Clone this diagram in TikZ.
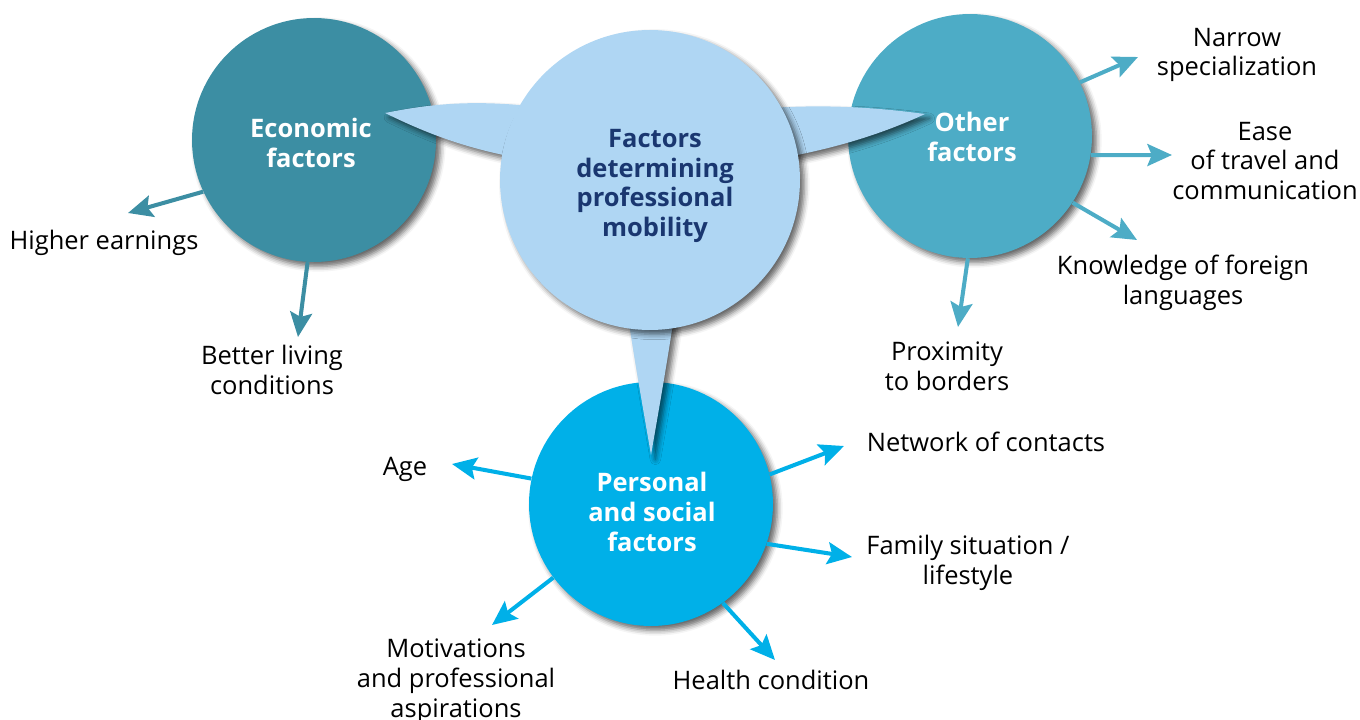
\documentclass[tikz,border=0pt]{standalone}
\usepackage{fontspec}
\setmainfont{Open Sans}
\usetikzlibrary{arrows.meta,positioning,shadows.blur}

\definecolor{econcol}{HTML}{3C8EA3}
\definecolor{centcol}{HTML}{AFD6F3}
\definecolor{othercol}{HTML}{4DACC6}
\definecolor{perscol}{HTML}{00B0E8}
\definecolor{navy}{HTML}{1A3770}

\tikzset{
  softshadow/.style={blur shadow={shadow xshift=2.5pt,shadow yshift=-2.5pt,
    shadow blur radius=3pt,shadow opacity=60}},
  factor/.style={circle,draw=none,inner sep=0pt,softshadow},
  factortext/.style={align=center,inner sep=0pt,text=white,
    font=\bfseries\fontsize{14.5}{17}\selectfont},
  item/.style={align=center,inner sep=0pt,font=\fontsize{14.5}{17}\selectfont},
  ptr/.style={line width=2.3pt,-{Stealth[length=14pt,width=12.5pt,inset=2.5pt]}},
  bubble/.style={fill=centcol,softshadow}
}

\begin{document}
\begin{tikzpicture}[x=0.02cm,y=-0.02cm]
\useasboundingbox (0,0) rectangle (1360,720);
% outer groups of factors
\node[factor,fill=econcol,minimum size=4.88cm] (econ) at (314,140) {};
\node[factor,fill=othercol,minimum size=4.88cm] (other) at (970,136) {};
\node[factor,fill=perscol,minimum size=4.88cm] (pers) at (651,504) {};
% pointers from the central bubble
\path[bubble] (385,113) .. controls (430,104) and (470,100) .. (530,106)
  -- (530,160) .. controls (470,150) and (430,135) .. (385,113) -- cycle;
\path[bubble] (925,114) .. controls (880,108) and (830,104) .. (770,108)
  -- (770,160) .. controls (830,150) and (880,135) .. (925,114) -- cycle;
\path[bubble] (627,310) .. controls (636,370) and (645,420) .. (651,455)
  .. controls (657,420) and (666,370) .. (675,310) -- cycle;
% central bubble
\node[factor,fill=centcol,minimum size=6cm] (main) at (650,180) {};

% circle captions
\node[factortext] (econText) at (311,143) {Economic\\factors};
\node[factortext] (otherText) at (972,137) {Other\\factors};
\node[factortext] (persText) at (652,512) {Personal\\and social\\factors};
\node[factortext,text=navy] (mainText) at (655,186) {Factors\\determining\\professional\\mobility};

% economic factors
\node[item] (earn) at (104,243) {Higher earnings};
\node[item] (living) at (272,370) {Better living\\conditions};
\coordinate (earnTip) at (128,213);
\coordinate (livingTip) at (298,337);
\draw[ptr,econcol] (econ.205.5) -- (earnTip);
\draw[ptr,econcol] (econ.267) -- (livingTip);

% other factors
\node[item] (narrow) at (1237,55) {Narrow\\specialization};
\node[item] (ease) at (1265,161) {Ease\\of travel and\\communication};
\node[item] (langs) at (1183,283) {Knowledge of foreign\\languages};
\node[item] (border) at (947,366) {Proximity\\to borders};
\coordinate (narrowTip) at (1138,57);
\coordinate (easeTip) at (1172,155);
\coordinate (langsTip) at (1137,240);
\coordinate (borderTip) at (958,327);
\draw[ptr,othercol] (other.26.6) -- (narrowTip);
\draw[ptr,othercol] (other.-9) -- (easeTip);
\draw[ptr,othercol] (other.-33.3) -- (langsTip);
\draw[ptr,othercol] (other.-91.4) -- (borderTip);

% personal and social factors
\node[item] (age) at (405,469) {Age};
\node[item] (contacts) at (986,442) {Network of contacts};
\node[item] (family) at (968,563) {Family situation /\\lifestyle};
\node[item] (motiv) at (456,681) {Motivations\\and professional\\aspirations};
\node[item] (health) at (771,680) {Health condition};
\coordinate (ageTip) at (452,464);
\coordinate (contactsTip) at (844,446);
\coordinate (familyTip) at (852,557);
\coordinate (motivTip) at (492,625);
\coordinate (healthTip) at (775,660);
\draw[ptr,perscol] (pers.168.3) -- (ageTip);
\draw[ptr,perscol] (pers.14.4) -- (contactsTip);
\draw[ptr,perscol] (pers.-19.3) -- (familyTip);
\draw[ptr,perscol] (pers.217.4) -- (motivTip);
\draw[ptr,perscol] (pers.-54) -- (healthTip);
\end{tikzpicture}
\end{document}
